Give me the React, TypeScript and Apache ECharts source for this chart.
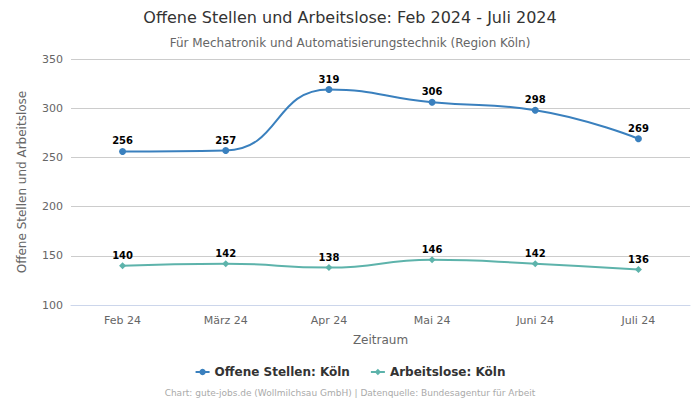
import React, { useEffect, useRef } from "react";
import * as echarts from "echarts";

const categories = ["Feb 24", "März 24", "Apr 24", "Mai 24", "Juni 24", "Juli 24"];
const offeneStellen = [256, 257, 319, 306, 298, 269];
const arbeitslose = [140, 142, 138, 146, 142, 136];

export default function App() {
  const ref = useRef<HTMLDivElement>(null);
  useEffect(() => {
    const chart = echarts.init(ref.current!, null, { renderer: "svg" });
    const font = "DejaVu Sans";
    chart.setOption({
      animation: false,
      textStyle: { fontFamily: font },
      title: [
        {
          text: "Offene Stellen und Arbeitslose: Feb 2024 - Juli 2024",
          left: "center",
          top: 4,
          textStyle: { fontSize: 16, fontWeight: "normal", color: "#333", fontFamily: font },
        },
        {
          text: "Für Mechatronik und Automatisierungstechnik (Region Köln)",
          left: "center",
          top: 32,
          textStyle: { fontSize: 12, fontWeight: "normal", color: "#666", fontFamily: font },
        },
        {
          text: "Chart: gute-jobs.de (Wollmilchsau GmbH) | Datenquelle: Bundesagentur für Arbeit",
          left: "center",
          top: 383,
          textStyle: { fontSize: 9, fontWeight: "normal", color: "#aaa", fontFamily: font },
        },
      ],
      legend: {
        top: 361,
        left: "center",
        itemGap: 20,
        itemWidth: 14,
        itemHeight: 8,
        textStyle: { fontSize: 12, fontWeight: "bold", color: "#333", fontFamily: font },
        data: ["Offene Stellen: Köln", "Arbeitslose: Köln"],
      },
      grid: { left: 71, right: 10, top: 59, bottom: 95 },
      xAxis: {
        type: "category",
        data: categories,
        name: "Zeitraum",
        nameLocation: "middle",
        nameGap: 29,
        nameTextStyle: { fontSize: 12, color: "#666" },
        axisTick: { show: false },
        axisLine: { lineStyle: { color: "#ccd6eb" } },
        axisLabel: { color: "#666", fontSize: 11, margin: 10 },
      },
      yAxis: {
        type: "value",
        min: 100,
        max: 350,
        interval: 50,
        name: "Offene Stellen und Arbeitslose",
        nameLocation: "middle",
        nameGap: 43,
        nameTextStyle: { fontSize: 12, color: "#666" },
        axisLabel: { color: "#666", fontSize: 11 },
        splitLine: { lineStyle: { color: "#ccc" } },
      },
      series: [
        {
          name: "Offene Stellen: Köln",
          type: "line",
          smooth: true,
          data: offeneStellen,
          color: "#3a80be",
          symbol: "circle",
          symbolSize: 7,
          lineStyle: { width: 2 },
          label: { show: true, position: "top", fontWeight: "bold", fontSize: 10, color: "#000", distance: 2 },
        },
        {
          name: "Arbeitslose: Köln",
          type: "line",
          smooth: true,
          data: arbeitslose,
          color: "#5db3ab",
          symbol: "diamond",
          symbolSize: 7,
          lineStyle: { width: 2 },
          label: { show: true, position: "top", fontWeight: "bold", fontSize: 10, color: "#000", distance: 2 },
        },
      ],
    });
    return () => chart.dispose();
  }, []);
  return <div ref={ref} style={{ width: 700, height: 400, position: "absolute", left: 0, top: 0 }} />;
}
